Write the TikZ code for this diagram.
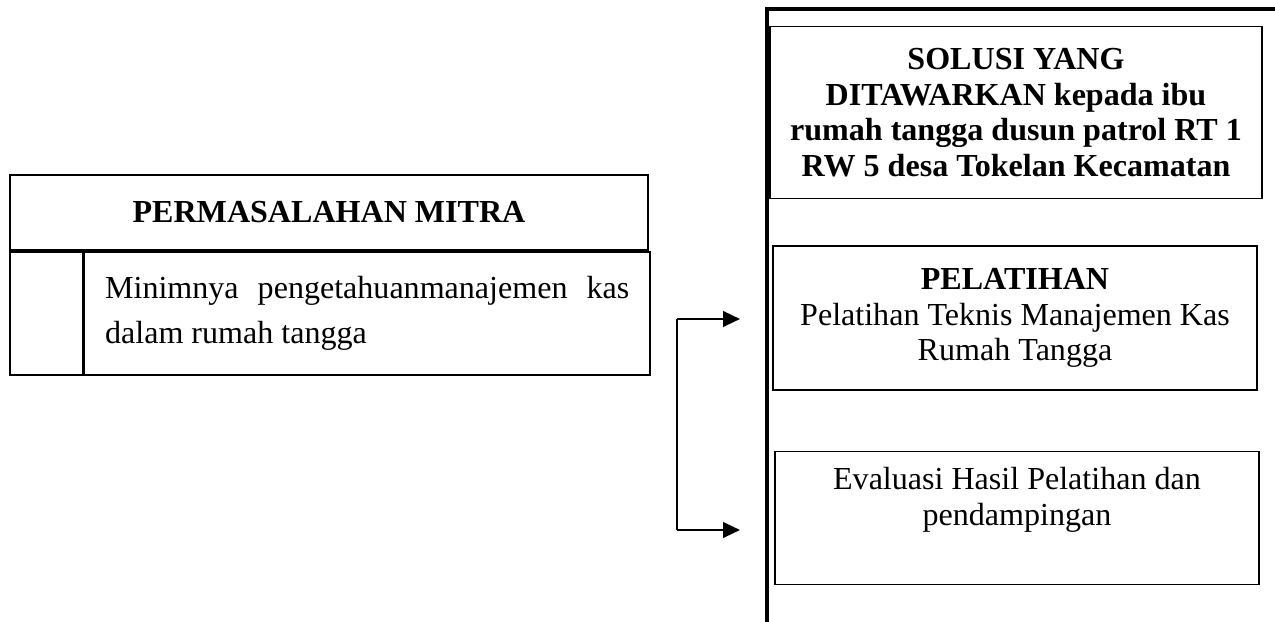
\documentclass[tikz,border=0pt]{standalone}
\usepackage{fontspec}
\setmainfont{Liberation Serif}
\usetikzlibrary{shapes,arrows.meta,positioning}
\tolerance=2000

\begin{document}
\begin{tikzpicture}[x=0.0125cm, y=-0.0125cm,
	every node/.style={font=\fontsize{11.4}{12.7}\selectfont},
	cell/.style={draw, line width=0.6pt, inner sep=0pt},
	solbox/.style={draw, line width=0.6pt, align=center, inner sep=0pt},
	arr/.style={line width=0.9pt, -{Triangle[length=6pt, width=5.5pt]}}]
	\useasboundingbox (0,0) rectangle (1275,622);
	% left side: problem table
	\node[cell, minimum width=7.975cm, minimum height=0.9375cm,
		font=\bfseries\fontsize{11.4}{12.7}\selectfont] (hdr) at (329,212.5) {PERMASALAHAN MITRA};
	\node[cell, minimum width=0.9125cm, minimum height=1.5375cm, anchor=north west] (cellA) at (hdr.south west) {};
	\node[cell, minimum width=7.0625cm, minimum height=1.5375cm, anchor=north west] (cellB) at (cellA.north east) {};
	\node[text width=6.55cm, align=justify, inner sep=0pt,
		font=\fontsize{11.4}{16}\selectfont] (probtxt) at (cellB.center)
		{Minimnya pengetahuanmanajemen kas dalam rumah tangga};
	% right side: frame and solution boxes
	\coordinate (frbot) at (767,622);
	\coordinate (frtop) at (767,9);
	\coordinate (frright) at (1275,9);
	\draw[line width=1.2pt] (frbot) -- (frtop) -- (frright);
	\node[solbox, minimum width=6.15cm, minimum height=2.15cm,
		font=\bfseries\fontsize{11.4}{12.7}\selectfont] (solusi) at (1016,112.5)
		{SOLUSI YANG\\ DITAWARKAN kepada ibu\\ rumah tangga dusun patrol RT 1\\ RW 5 desa Tokelan Kecamatan};
	\node[solbox, minimum width=6.05cm, minimum height=1.8cm] (latih) at (1015,318)
		{\textbf{PELATIHAN}\\ Pelatihan Teknis Manajemen Kas\\ Rumah Tangga};
	\node[solbox, minimum width=6.05cm, minimum height=1.6625cm] (evalbox) at (1017,518) {};
	\node[align=center, anchor=north, inner sep=0pt] (evaltxt) at ([yshift=-0.2cm]evalbox.north)
		{Evaluasi Hasil Pelatihan dan\\ pendampingan};
	% bracket with arrows
	\coordinate (brtop) at (677,319);
	\coordinate (brbot) at (677,530);
	\coordinate (tiptop) at (740,319);
	\coordinate (tipbot) at (740,530);
	\draw[line width=0.6pt] (brtop) -- (brbot);
	\draw[arr] (brtop) -- (tiptop);
	\draw[arr] (brbot) -- (tipbot);
\end{tikzpicture}
\end{document}
